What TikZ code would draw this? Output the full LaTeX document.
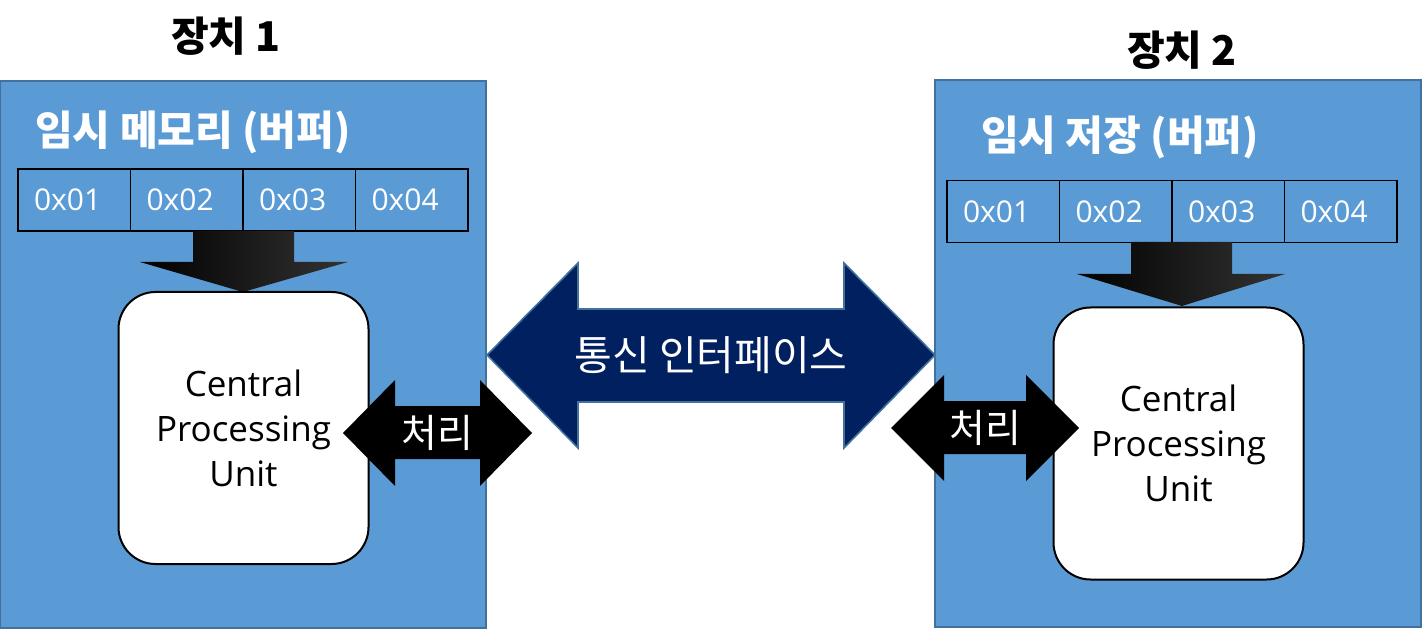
\documentclass[tikz,border=0pt]{standalone}
\usepackage{fontspec}
\setmainfont{Open Sans}
\newfontfamily\kor{Noto Sans CJK KR}
\usetikzlibrary{positioning}
\definecolor{boxblue}{HTML}{5B9BD5}
\definecolor{boxedge}{HTML}{41719C}
\definecolor{navy}{HTML}{002060}

\begin{document}
\begin{tikzpicture}[x=0.5pt, y=-0.5pt,
			device/.style={draw=boxedge, fill=boxblue, line width=1pt, minimum width=243pt, minimum height=273.5pt, inner sep=0pt},
			cell/.style={draw=black, fill=boxblue, line width=0.8pt, minimum height=31pt, inner ysep=0pt, inner xsep=8pt, text width=40.25pt, align=left, text=white, font=\fontsize{15}{18}\selectfont},
			cpu/.style={draw=black, fill=white, rounded corners=18.5pt, line width=1pt, minimum width=125pt, minimum height=136pt, align=center, font=\fontsize{17.5}{22.5}\selectfont},
			devtitle/.style={font=\kor\bfseries\fontsize{20.5}{24}\selectfont},
			buftitle/.style={text=white, font=\kor\bfseries\fontsize{20.5}{24}\selectfont},
			arrowtext/.style={text=white, inner sep=0pt, font=\kor\fontsize{20.5}{24}\selectfont}]
			
			\useasboundingbox (0,0) rectangle (1423,630);
			
			% Dispositivi
			\node[device] (dev1) at (243,354.5) {};
			\node[device] (dev2) at (1178,353.5) {};
			\node[devtitle] (t1) at (226,36) {장치 1};
			\node[devtitle] (t2) at (1182,50) {장치 2};
			\node[buftitle] (b1) at (193,132) {임시 메모리 (버퍼)};
			\node[buftitle] (b2) at (1120,137) {임시 저장 (버퍼)};
			
			% Celle del buffer
			\foreach \i/\v in {1/0x01, 2/0x02, 3/0x03, 4/0x04} {
				\node[cell] (m\i) at (18+56.25+112.5*\i-112.5,200) {\v};
				\node[cell] (s\i) at (947+56.25+112.5*\i-112.5,211.5) {\v};
			}
			
			% Frecce verso la CPU
			\shade[left color=black, right color=black!80] (193,231) -- (294,231) -- (294,262) -- (348,262) -- (243,292) -- (140,262) -- (193,262) -- cycle;
			\shade[left color=black, right color=black!80] (1131,242) -- (1232,242) -- (1232,274) -- (1285,274) -- (1182,306) -- (1077,274) -- (1131,274) -- cycle;
			
			% CPU
			\node[cpu] (cpu1) at (243.5,428) {Central\\Processing\\Unit};
			\node[cpu] (cpu2) at (1178.5,443.5) {Central\\Processing\\Unit};
			
			% Interfaccia di comunicazione
			\filldraw[fill=navy, draw=boxedge, line width=0.8pt] (487,355) -- (578,263) -- (578,309) -- (844,309) -- (844,263) -- (935,355) -- (844,448) -- (844,402) -- (578,402) -- (578,448) -- cycle;
			\node[arrowtext] (com) at (711,355) {통신 인터페이스};
			
			% Elaborazione
			\fill[black] (343,433) -- (395,380) -- (395,406) -- (480,406) -- (480,380) -- (532,433) -- (480,486) -- (480,459) -- (395,459) -- (395,486) -- cycle;
			\fill[black] (891,428) -- (944,375) -- (944,401) -- (1026,401) -- (1026,375) -- (1079,428) -- (1026,481) -- (1026,454) -- (944,454) -- (944,481) -- cycle;
			\node[arrowtext, font=\kor\fontsize{19.5}{23}\selectfont] (p1) at (437,433) {처리};
			\node[arrowtext, font=\kor\fontsize{19.5}{23}\selectfont] (p2) at (985,428) {처리};
		\end{tikzpicture}
\end{document}
